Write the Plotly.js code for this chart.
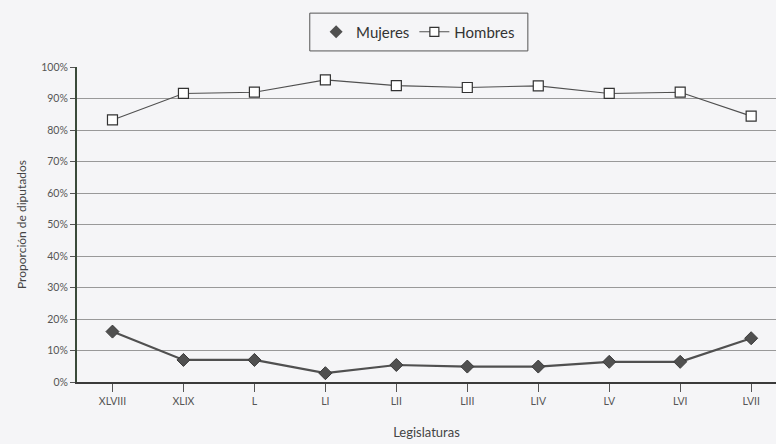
<!DOCTYPE html>
<html>
<head>
<meta charset="utf-8">
<script src="https://cdn.plot.ly/plotly-3.0.1.min.js"></script>
<style>html,body{margin:0;padding:0;background:#f5f5f7;}#chart{width:776px;height:444px;}</style>
</head>
<body>
<div id="chart"></div>
<script>
const categories = ["XLVIII","XLIX","L","LI","LII","LIII","LIV","LV","LVI","LVII"];
const mujeres = [16.0, 7.0, 7.0, 2.8, 5.4, 4.9, 4.9, 6.4, 6.4, 13.9];
const hombres = [83.2, 91.6, 92.0, 95.9, 94.1, 93.5, 94.0, 91.6, 92.0, 84.4];
const seriesNames = ["Mujeres", "Hombres"];

const FONT = "Lato, 'Open Sans', sans-serif";
const traces = [
  {x: categories, y: mujeres, name: seriesNames[0], type: "scatter", mode: "lines+markers", showlegend: false,
   line: {color: "#505050", width: 2.2},
   marker: {symbol: "diamond", size: 10, color: "#505050", line: {color: "#3a3a3a", width: 1}}},
  {x: categories, y: hombres, name: seriesNames[1], type: "scatter", mode: "lines+markers", showlegend: false,
   line: {color: "#505050", width: 1.1},
   marker: {symbol: "square", size: 10, color: "#ffffff", line: {color: "#333333", width: 1.2}}},
  {x: [null], y: [null], name: seriesNames[0], type: "scatter", mode: "markers",
   marker: {symbol: "diamond", size: 10, color: "#505050"}},
  {x: [null], y: [null], name: seriesNames[1], type: "scatter", mode: "lines+markers",
   line: {color: "#505050", width: 1.1},
   marker: {symbol: "square", size: 9, color: "#ffffff", line: {color: "#333333", width: 1.2}}}
];
const layout = {
  width: 776, height: 444,
  margin: {l: 77, r: 0, t: 67, b: 62},
  paper_bgcolor: "#f5f5f7", plot_bgcolor: "#f5f5f7",
  font: {family: FONT, color: "#444"},
  showlegend: true,
  legend: {orientation: "h", x: 0.488, xanchor: "center", y: 1.111, yanchor: "middle",
    borderwidth: 0, bgcolor: "rgba(0,0,0,0)",
    font: {size: 15, color: "#333", family: FONT}},
  shapes: [{type: "rect", xref: "paper", yref: "paper", x0: 0.333, x1: 0.645, y0: 1.051, y1: 1.171,
    line: {color: "#555", width: 1}, fillcolor: "rgba(0,0,0,0)", layer: "below"}],
  xaxis: {type: "category", range: [-0.5, 9.35], showgrid: false,
    showline: true, linecolor: "#3a3a3a", linewidth: 2,
    ticks: "outside", ticklen: 8, tickcolor: "#555", tickwidth: 1,
    tickfont: {size: 10.5, color: "#555"},
    title: {text: "Legislaturas", font: {size: 13, color: "#444"}, standoff: 22},
    fixedrange: true},
  yaxis: {range: [0, 100], dtick: 10, ticksuffix: "%",
    showgrid: true, gridcolor: "#999999", gridwidth: 1,
    showline: true, linecolor: "#3a4a3a", linewidth: 2,
    ticks: "outside", ticklen: 5, tickcolor: "#555",
    tickfont: {size: 10.5, color: "#555"},
    zeroline: false,
    title: {text: "Proporción de diputados", font: {size: 12, color: "#444"}, standoff: 12},
    fixedrange: true}
};
Plotly.newPlot("chart", traces, layout, {displayModeBar: false, staticPlot: true});
</script>
</body>
</html>
